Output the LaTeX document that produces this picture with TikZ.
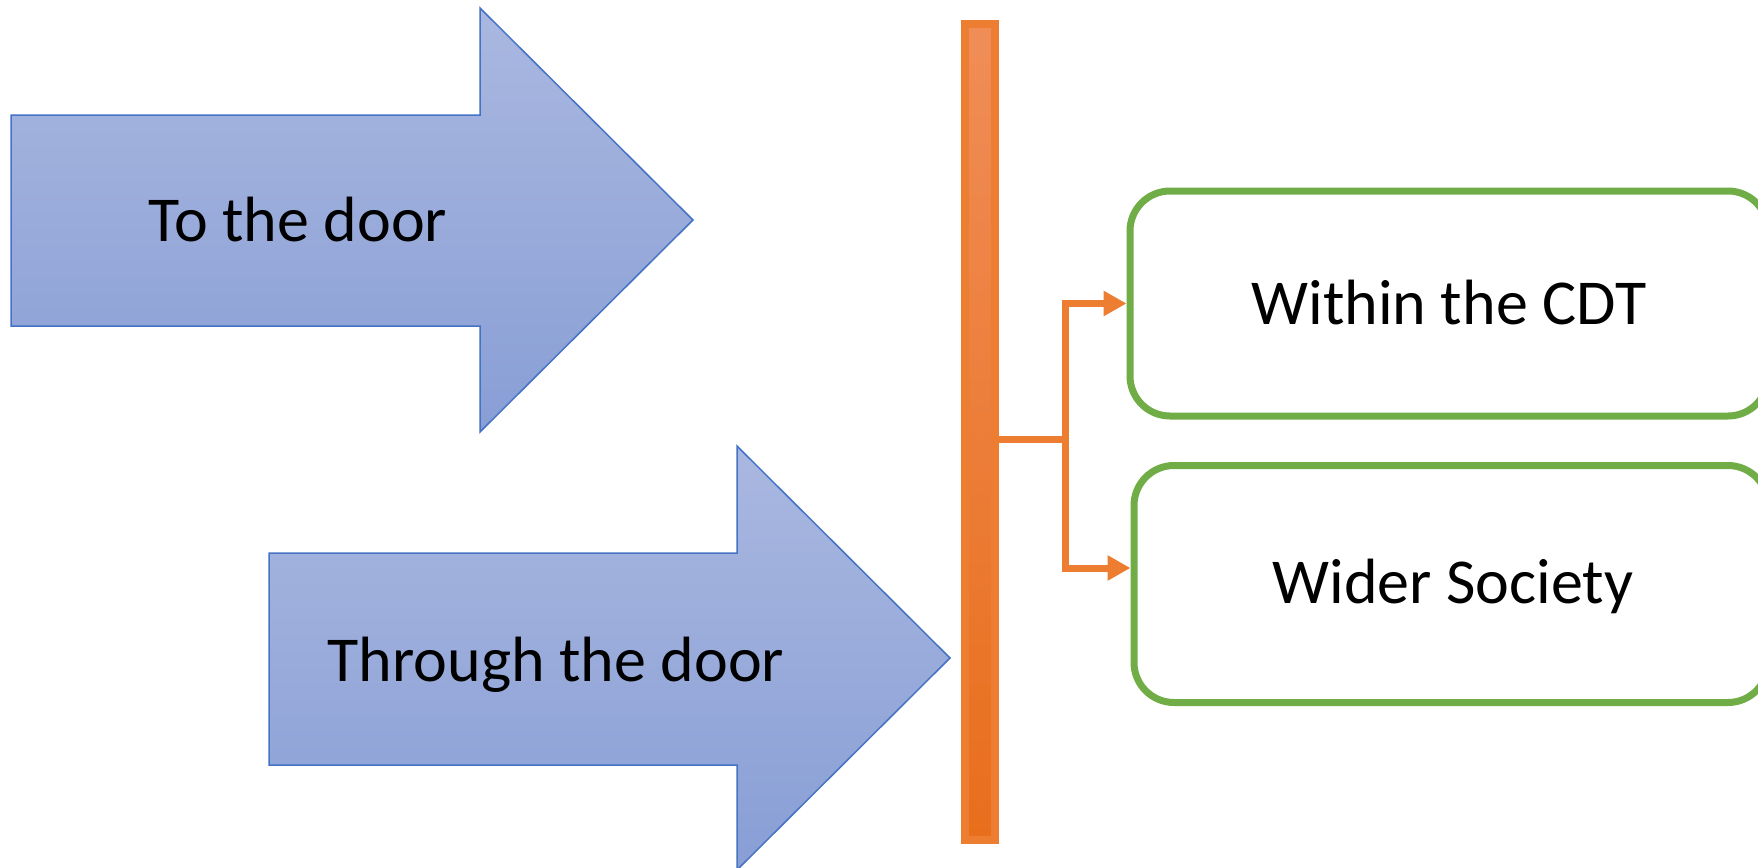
\documentclass[tikz,border=0pt]{standalone}
\usepackage{fontspec}
\setmainfont{Carlito}
\usetikzlibrary{arrows.meta}
\definecolor{arrowedge}{HTML}{4472C4}
\definecolor{arrowtop}{HTML}{AAB8E0}
\definecolor{arrowbot}{HTML}{889ED5}
\definecolor{boxgreen}{HTML}{70AD47}
\definecolor{barorange}{HTML}{ED7D31}
\definecolor{bartop}{HTML}{F08D57}
\definecolor{barmid}{HTML}{F5822B}
\definecolor{barbot}{HTML}{E86E1B}
\begin{document}
\begin{tikzpicture}[x=0.5pt,y=-0.5pt,
  bigarrow/.style={draw=arrowedge, line width=0.75pt, line join=miter,
    top color=arrowtop, bottom color=arrowbot},
  caption/.style={font=\fontsize{32}{38}\selectfont, anchor=base, inner sep=0pt},
  outcome/.style={draw=boxgreen, line width=3.5pt, rounded corners=20pt,
    fill=white, inner sep=0pt},
  barstyle/.style={draw=barorange, line width=4pt, top color=bartop,
    middle color=barmid, bottom color=barbot, inner sep=0pt},
  conn/.style={draw=barorange, line width=3.5pt,
    -{Triangle[length=11.5pt,width=12pt]}}]

\useasboundingbox (0,0) rectangle (1758,868);
\clip (0,0) rectangle (1758,868);

% the two block arrows
\path[bigarrow] (11,115) -- (480,115) -- (480,8) -- (693,220) -- (480,432)
  -- (480,326) -- (11,326) -- cycle;
\path[bigarrow] (269,553) -- (737,553) -- (737,446) -- (950,658) -- (737,870)
  -- (737,765) -- (269,765) -- cycle;
\node[caption] (todoor) at (298,241) {To the door};
\node[caption] (throughdoor) at (556,681) {Through the door};

% the door
\node[barstyle, minimum width=15pt, minimum height=408pt] (bar) at (980,432) {};

% outcome boxes
\node[outcome, minimum width=319pt, minimum height=112.5pt] (within) at (1449,303.5) {};
\node[outcome, minimum width=317pt, minimum height=118.5pt] (wider) at (1451,584) {};
\node[caption] (withintext) at (1449,324) {Within the CDT};
\node[caption] (widertext) at (1453,603) {Wider Society};

% elbow connectors from the door
\draw[conn] ([yshift=-3.5pt]bar.east) -- ++(66,0) |- (within.west);
\draw[conn] ([yshift=-3.5pt]bar.east) -- ++(66,0) |- ([yshift=8pt]wider.west);
\end{tikzpicture}
\end{document}
